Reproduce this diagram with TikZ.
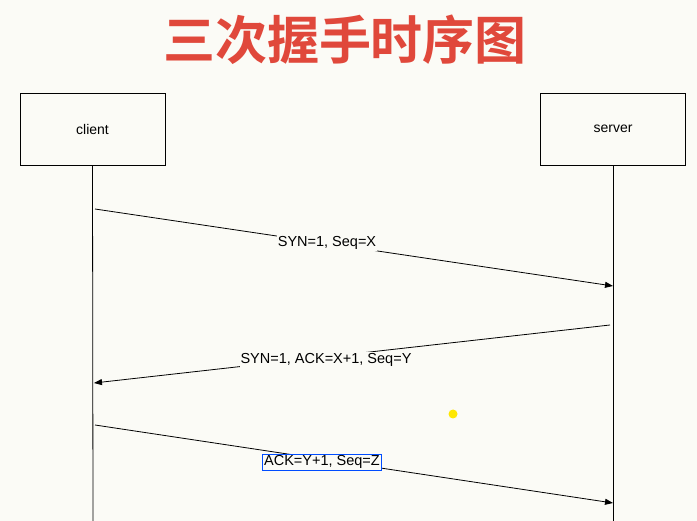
\documentclass[tikz,border=0pt]{standalone}
\usepackage{fontspec}
\setmainfont{Liberation Sans}
\newfontfamily\cjk{Noto Sans CJK SC Bold}
\usetikzlibrary{arrows.meta}
\definecolor{bg}{HTML}{FBFBF6}
\definecolor{titlered}{HTML}{E0483B}
\begin{document}
\begin{tikzpicture}[x=1pt,y=-1pt,
  actor/.style={draw,line width=0.8pt,minimum width=145pt,minimum height=72pt,font=\fontsize{14}{16}\selectfont},
  msg/.style={-{Triangle[length=8pt,width=6pt]},line width=0.8pt},
  lbl/.style={fill=bg,inner sep=1pt,font=\fontsize{14.5}{16}\selectfont}]
\fill[bg] (0,0) rectangle (697,521);
\useasboundingbox (0,0) rectangle (697,521);
\node[text=titlered,font=\cjk\fontsize{52}{56}\selectfont] (title) at (345,40) {三次握手时序图};
\node[actor] (client) at (92.5,129) {client};
\node[actor] (server) at (613,129) {server};
\coordinate (cb) at (93,521);
\coordinate (sb) at (613,521);
\draw[line width=0.8pt] (client.south) -- (cb);
\draw[line width=0.8pt] (server.south) -- (sb);
\coordinate (a1) at (95,209); \coordinate (b1) at (613,286);
\coordinate (a2) at (610,325); \coordinate (b2) at (94,383);
\coordinate (a3) at (95,425); \coordinate (b3) at (613,503);
\draw[msg] (a1) -- (b1);
\draw[msg] (a2) -- (b2);
\draw[msg] (a3) -- (b3);
\node[lbl] (l1) at (327,243) {SYN=1, Seq=X};
\node[lbl] (l2) at (326,360) {SYN=1, ACK=X+1, Seq=Y};
\node[lbl,draw=blue!70!cyan,line width=0.6pt,inner sep=1.5pt] (l3) at (322,462) {ACK=Y+1, Seq=Z};
\fill[yellow!90!orange] (453,414) circle (4.5pt);
\end{tikzpicture}
\end{document}
